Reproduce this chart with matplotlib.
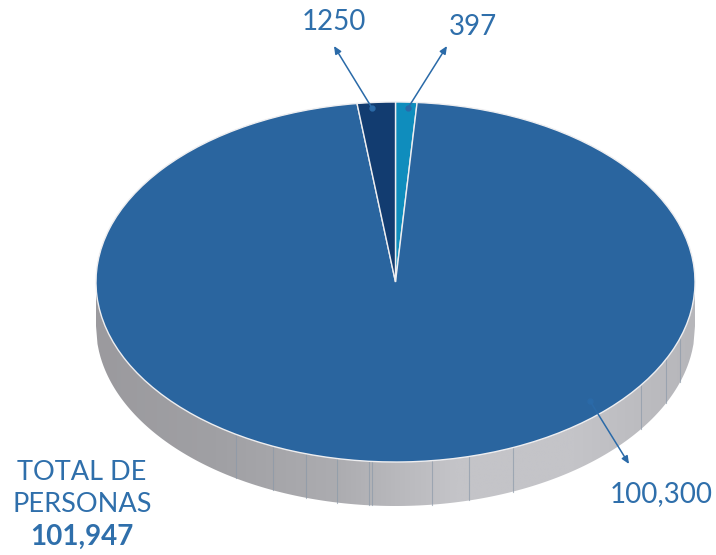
#!/usr/bin/env python3
"""Pie with a fake 3D rim: personas by group, total 101,947."""

import numpy as np
import matplotlib
matplotlib.use("Agg")
import matplotlib.pyplot as plt
from matplotlib.colors import LinearSegmentedColormap
from matplotlib.patches import Polygon

plt.rcParams["font.family"] = ["Lato", "DejaVu Sans"]

# Data
labels = ["397", "100,300", "1250"]
# slice widths as drawn in the picture (percent), they are not proportional to the labels
shares = [1.15, 96.8, 2.05]
colors = ["#0f8dbd", "#2a659f", "#123c70"]
total_lines = ["TOTAL DE", "PERSONAS"]
total_value = "101,947"

TEXT = "#2f6fab"
ARROW = "#2a6aa8"
W, H = 716, 555
CX, CY = 395.5, 282    # centre of the ellipse (px)
RX, RY = 299.5, 180    # half axes (px)
DEPTH = 44             # rim height (px)

# rim panel seams, x in px
seams = [236, 273, 306, 337, 369, 372, 432, 469, 513, 641, 666, 680]


def px(x, y):
    """image pixels -> unit pie coordinates"""
    return (x - CX) / RX, (CY - y) / RY


fig = plt.figure(figsize=(W / 100, H / 100), dpi=100)
ax = fig.add_axes([0, 0, 1, 1])

# ── Pie ──────────────────────────────────────────────────────────────────────
ax.pie(shares, colors=colors, startangle=90, counterclock=False, radius=1,
       wedgeprops=dict(edgecolor="#eeeef0", linewidth=1.0, zorder=3))
ax.set_aspect("auto")

# ── Rim: grey gradient clipped to the side wall ──────────────────────────────
depth = DEPTH / RY
xs = np.linspace(-1, 1, 400)
lower = -np.sqrt(1 - xs ** 2)
wall = Polygon(np.r_[np.c_[xs, lower - depth], np.c_[xs[::-1], np.zeros(400)]],
               closed=True, fc="none", ec="none", transform=ax.transData)
ax.add_patch(wall)
cmap = LinearSegmentedColormap.from_list(
    "rim", ["#9b9a9e", "#a0a0a4", "#acacb0", "#c4c4c8", "#c4c4c8", "#b6b6ba"])
grad = ax.imshow(np.linspace(0, 1, 256)[None, :], cmap=cmap, aspect="auto",
                 extent=(-1, 1, -1 - depth, 0), zorder=1)
grad.set_clip_path(wall)
ax.set_xlim(px(0, 0)[0], px(W, 0)[0])
ax.set_ylim(px(0, H)[1], px(0, 0)[1])

for sx in seams:
    u = (sx - CX) / RX
    v = -np.sqrt(1 - u ** 2)
    ax.plot([u, u], [v, v - depth], color="#8a98a8", lw=0.8, alpha=0.65, zorder=2)

# ── Leader arrows and labels ─────────────────────────────────────────────────
arrows = {"1250": ((372, 108), (334, 46)),
          "397": ((408, 108), (447, 46)),
          "100,300": ((590, 401), (629, 464))}
for start, end in arrows.values():
    ax.annotate("", xy=px(*end), xytext=px(*start), zorder=5,
                arrowprops=dict(arrowstyle="-|>,head_length=0.45,head_width=0.2",
                                color=ARROW, lw=1.1, shrinkA=0, shrinkB=0))
    ax.plot(*px(*start), "o", color=ARROW, ms=3.5, zorder=5)

label_pos = {"1250": (334, 22), "397": (473, 27), "100,300": (661, 494)}
for name in labels:
    ax.text(*px(*label_pos[name]), name, color=TEXT, fontsize=20,
            ha="center", va="center")

ax.text(*px(82, 472), total_lines[0], color=TEXT, fontsize=19.5, ha="center", va="center")
ax.text(*px(82, 504), total_lines[1], color=TEXT, fontsize=19.5, ha="center", va="center")
ax.text(*px(82, 537), total_value, color=TEXT, fontsize=20, fontweight="bold",
        ha="center", va="center")

fig.savefig("out.png", dpi=100)
plt.close(fig)
